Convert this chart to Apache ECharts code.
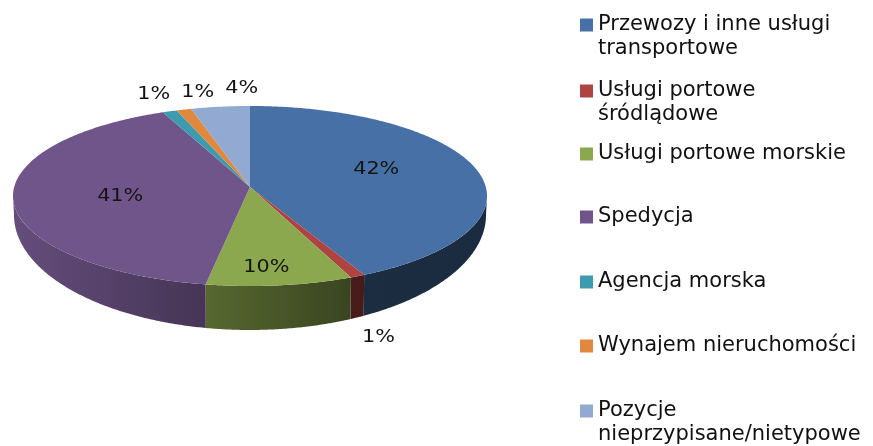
<!DOCTYPE html>
<html>
<head>
<meta charset="utf-8">
<script src="https://cdn.jsdelivr.net/npm/echarts@6.0.0/dist/echarts.min.js"></script>
<style>
html,body{margin:0;padding:0;background:#fff;}
#chart{width:873px;height:446px;}
</style>
</head>
<body>
<div id="chart"></div>
<script>
// ---- data ----
const categories = [
  'Przewozy i inne usługi\ntransportowe',
  'Usługi portowe\nśródlądowe',
  'Usługi portowe morskie',
  'Spedycja',
  'Agencja morska',
  'Wynajem nieruchomości',
  'Pozycje\nnieprzypisane/nietypowe'
];
const shares = [42, 1, 10, 41, 1, 1, 4];

// ---- styles ----
const topColors = ['#4670A6', '#AE4441', '#8BA84E', '#70558A', '#3E9AB0', '#E0883E', '#92A9D1'];
const legendIconCenters = [25, 91, 154, 217, 282, 346, 411];

// ---- geometry (pseudo-3D ellipse) ----
const TOP = {cx: 250, cy: 196, rx: 237, ry: 90};
const BOT = {cx: 250, cy: 215, rx: 236, ry: 115};
const APEX = [250, 187];
const total = shares.reduce((a, b) => a + b, 0);
const cum = [];
shares.reduce((acc, v, i) => { cum[i] = acc; return acc + v; }, 0);

function ell(e, t, k) { k = k || 1; return [e.cx + k * e.rx * Math.sin(t), e.cy - k * e.ry * Math.cos(t)]; }
function arc(e, t0, t1) {
  const n = Math.max(2, Math.ceil(Math.abs(t1 - t0) / (Math.PI / 360)));
  const pts = [];
  for (let j = 0; j <= n; j++) pts.push(ell(e, t0 + (t1 - t0) * j / n));
  return pts;
}
function shade(hex, f) {
  const r = parseInt(hex.slice(1, 3), 16), g = parseInt(hex.slice(3, 5), 16), b = parseInt(hex.slice(5, 7), 16);
  return 'rgb(' + Math.round(r * f) + ',' + Math.round(g * f) + ',' + Math.round(b * f) + ')';
}

// label layout
const labelPos = shares.map((v, i) => {
  const mid = (cum[i] + v / 2) / total * 2 * Math.PI;
  const pct = v / total * 100;
  if (pct >= 5) {
    return [TOP.cx + 0.55 * TOP.rx * Math.sin(mid), 189 - 0.88 * TOP.ry * Math.cos(mid)];
  }
  const front = mid > Math.PI / 2 && mid < 1.5 * Math.PI;
  return ell(front ? BOT : TOP, mid, 1.2);
});
(function avoid() {
  const idx = shares.map((v, i) => i).filter(i => shares[i] / total * 100 < 5 && labelPos[i][1] < TOP.cy)
    .sort((a, b) => labelPos[a][0] - labelPos[b][0]);
  for (let k = 1; k < idx.length; k++) {
    const p = labelPos[idx[k - 1]], q = labelPos[idx[k]];
    if (q[0] < p[0] + 44) q[0] = p[0] + 44;
  }
})();

function makeRender(i) {
  return function (params, api) {
    const v = api.value(0);
    const a0 = cum[i] / total * 2 * Math.PI;
    const a1 = a0 + v / total * 2 * Math.PI;
    const color = topColors[i];
    const children = [];
    const s0 = Math.max(a0, Math.PI / 2), s1 = Math.min(a1, 1.5 * Math.PI);
    if (s1 > s0) {
      const pts = arc(TOP, s0, s1).concat(arc(BOT, s1, s0));
      children.push({
        type: 'polygon', z2: 1,
        shape: {points: pts},
        style: {
          fill: {
            type: 'linear', x: 13, y: 0, x2: 487, y2: 0, global: true,
            colorStops: [
              {offset: 0, color: shade(color, 0.90)},
              {offset: 0.73, color: shade(color, 0.40)},
              {offset: 1, color: shade(color, 0.38)}
            ]
          },
          stroke: null
        }
      });
    }
    children.push({
      type: 'polygon', z2: 10,
      shape: {points: [APEX].concat(arc(TOP, a0, a1))},
      style: {fill: color, stroke: null}
    });
    const lp = labelPos[i];
    children.push({
      type: 'text', z2: 100,
      x: lp[0], y: lp[1], scaleX: 1.22,
      style: {
        text: Math.round(v / total * 100) + '%',
        fontFamily: 'DejaVu Sans', fontSize: 17,
        fill: '#141414', align: 'center', verticalAlign: 'middle'
      }
    });
    return {type: 'group', children: children};
  };
}

const LH = 24;
const chart = echarts.init(document.getElementById('chart'), null, {renderer: 'canvas'});
chart.setOption({
  backgroundColor: '#ffffff',
  animation: false,
  legend: categories.map((name, i) => {
    const twoLine = name.indexOf('\n') >= 0;
    return {
      left: 580, top: legendIconCenters[i] - (twoLine ? 1.5 * LH : 0.5 * LH), padding: 0, orient: 'vertical',
      itemWidth: 13, itemHeight: 13, itemGap: 0, selectedMode: false,
      formatter: n => (n.indexOf('\n') >= 0 ? '\n' + n : n),
      data: [{name: name, icon: 'rect', itemStyle: {color: topColors[i]}}],
      textStyle: {fontFamily: 'DejaVu Sans', fontSize: 21, color: '#111111', lineHeight: LH}
    };
  }),
  series: categories.map((name, i) => ({
    type: 'custom', name: name, coordinateSystem: 'none', silent: true,
    itemStyle: {color: topColors[i]},
    data: [[shares[i]]],
    renderItem: makeRender(i)
  }))
});
</script>
</body>
</html>
